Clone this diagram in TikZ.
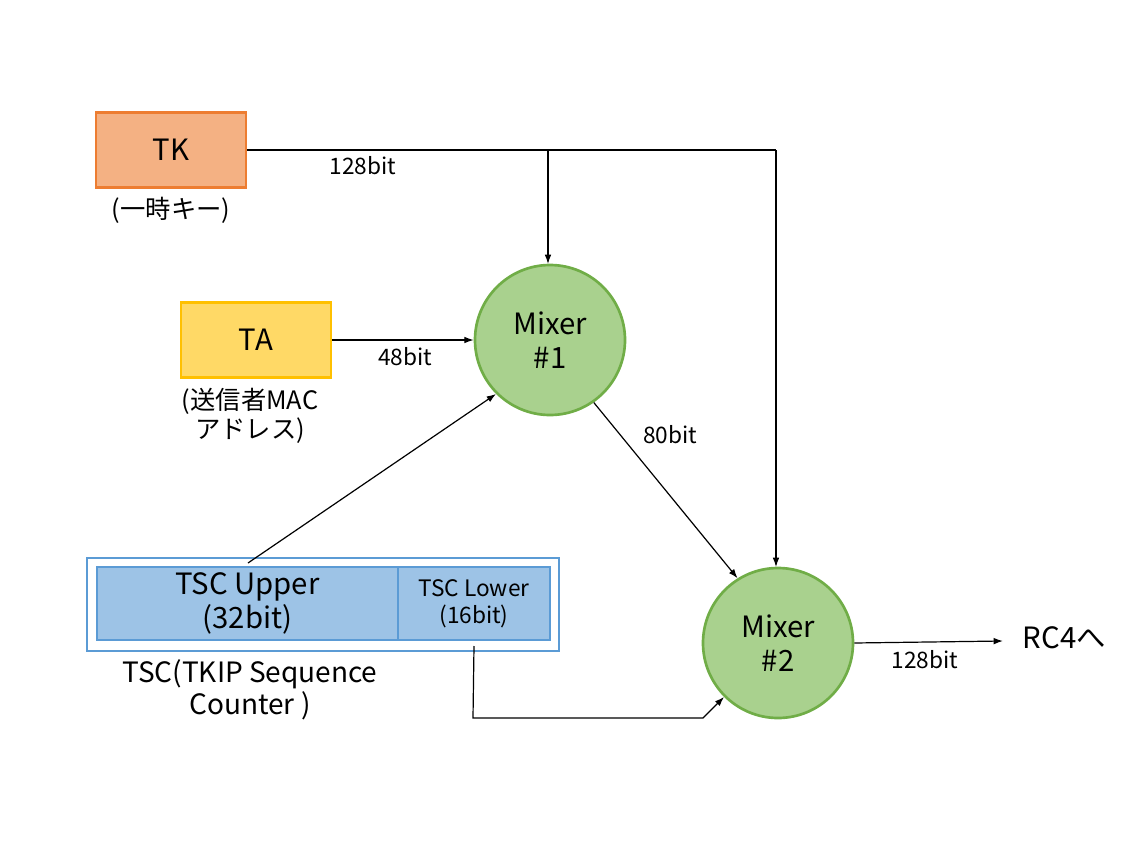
\documentclass[tikz,border=0pt]{standalone}
\usepackage{fontspec}
\setmainfont{Noto Sans CJK JP}
\usetikzlibrary{arrows.meta}
\definecolor{tkf}{HTML}{F4B183}\definecolor{tkd}{HTML}{ED7D31}
\definecolor{taf}{HTML}{FFD966}\definecolor{tad}{HTML}{FFC000}
\definecolor{mf}{HTML}{A9D18E}\definecolor{md}{HTML}{70AD47}
\definecolor{bf}{HTML}{9DC3E6}\definecolor{bd}{HTML}{5B9BD5}
\begin{document}
\begin{tikzpicture}[x=0.75pt,y=-0.75pt,
 big/.style={font=\fontsize{22}{26}\selectfont,align=center},
 lab/.style={font=\fontsize{17}{20}\selectfont,align=center},
 mixer/.style={circle,draw=md,fill=mf,line width=2pt,minimum size=150pt*0.75,inner sep=0,big},
 arr/.style={-{Latex[length=7pt,width=5pt]},line width=0.9pt}]
\useasboundingbox (0,0) rectangle (1125,846);
\node[draw=tkd,fill=tkf,line width=1.8pt,minimum width=150*0.75pt,minimum height=75*0.75pt,big] (tk) at (171,150) {TK};
\node[lab,font=\fontsize{19}{22}\selectfont] (tkl) at (171,210) {(一時キー)};
\node[draw=tad,fill=taf,line width=1.8pt,minimum width=150*0.75pt,minimum height=75*0.75pt,big] (ta) at (256,340) {TA};
\node[lab,font=\fontsize{19}{22}\selectfont] (tal) at (250,416) {(送信者MAC\\アドレス)};
\node[mixer] (m1) at (550,340) {Mixer\\\#1};
\node[mixer] (m2) at (778,643) {Mixer\\\#2};
\node[draw=bd,line width=1.5pt,minimum width=472*0.75pt,minimum height=93*0.75pt] (tsc) at (323,604.5) {};
\node[draw=bd,fill=bf,line width=1.5pt,minimum width=301*0.75pt,minimum height=73*0.75pt,inner sep=0,big] (up) at (247.5,603.5) {TSC Upper\\(32bit)};
\node[draw=bd,fill=bf,line width=1.5pt,minimum width=152*0.75pt,minimum height=73*0.75pt,inner sep=0,lab] (lo) at (474,603.5) {TSC Lower\\(16bit)};
\node[big,font=\fontsize{21}{24}\selectfont] (tscl) at (250,690) {TSC(TKIP Sequence\\Counter )};
\coordinate (c1) at (776,150);
\coordinate (c2) at (548,150);
\coordinate (c3) at (473,718);
\coordinate (c4) at (703,718);
\coordinate (rc) at (1003,641);
\draw[line width=0.9pt] (tk.east) -- (c1);
\draw[arr] (c1) -- (776,567);
\draw[arr] (c2) -- (548,264);
\node[lab] (l1) at (363,166) {128bit};
\draw[arr] (ta.east) -- (m1.west);
\node[lab] (l2) at (405,357) {48bit};
\draw[arr] (248,563) -- (m1.225);
\draw[arr] (m1.-55) -- (m2.122);
\node[lab] (l3) at (670,435) {80bit};
\draw[arr] (lo.south) ++(0,5) -- (c3) -- (c4) -- (m2.-135);
\draw[arr] (m2.east) -- (rc);
\node[lab] (l4) at (925,660) {128bit};
\node[big,anchor=west] (rcl) at (1018,638) {RC4へ};
\end{tikzpicture}
\end{document}
